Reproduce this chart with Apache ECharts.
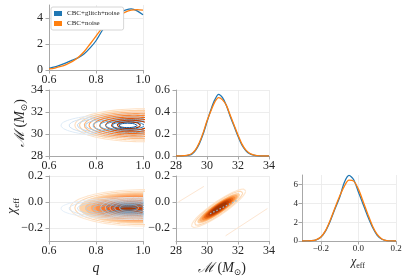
<!DOCTYPE html>
<html><head><meta charset="utf-8">
<script src="https://cdn.jsdelivr.net/npm/echarts@6/dist/echarts.min.js"></script>
<style>html,body{margin:0;padding:0;background:#fff}#c{width:407px;height:279px}</style>
</head><body><div id="c"></div>
<script>
// ---------- data ----------
const seriesNames = ['CBC+glitch+noise', 'CBC+noise'];
const qGrid = [0.6,0.625,0.65,0.675,0.7,0.725,0.75,0.775,0.8,0.825,0.85,0.875,0.9,0.925,0.95,0.975,1.0];
const qBlue   = [0.13,0.24,0.4,0.57,0.76,0.95,1.25,1.7,2.25,3.0,3.7,4.1,4.4,4.6,4.7,4.55,4.25];
const qOrange = [0.08,0.15,0.27,0.44,0.66,0.98,1.42,2.0,2.6,3.2,3.65,3.95,4.2,4.45,4.6,4.65,4.6];

const mGrid = [28,28.25,28.5,28.75,29,29.25,29.5,29.75,30,30.25,30.5,30.75,31,31.25,31.5,31.75,32,32.25,32.5,32.75,33,33.25,33.5,33.75,34];
const mBlue   = [0,0,0.002,0.005,0.015,0.05,0.11,0.2,0.31,0.42,0.51,0.56,0.53,0.46,0.36,0.27,0.18,0.1,0.05,0.02,0.008,0.002,0,0,0];
const mOrange = [0,0,0.003,0.007,0.02,0.055,0.12,0.21,0.32,0.41,0.49,0.53,0.51,0.46,0.37,0.28,0.19,0.11,0.055,0.025,0.01,0.003,0,0,0];

const cGrid = [-0.3,-0.275,-0.25,-0.225,-0.2,-0.175,-0.15,-0.125,-0.1,-0.075,-0.05,-0.025,0,0.025,0.05,0.075,0.1,0.125,0.15,0.175,0.2];
const cBlue   = [0,0.005,0.03,0.12,0.4,1.05,2.1,3.4,4.6,6.2,6.95,6.5,5.2,3.9,2.6,1.45,0.6,0.18,0.04,0.01,0];
const cOrange = [0,0.005,0.03,0.13,0.42,1.1,2.2,3.5,4.75,5.8,6.45,6.35,5.5,4.2,2.85,1.6,0.7,0.22,0.05,0.01,0];

const qTicks = [0.6,0.8,1.0], mTicks = [28,30,32,34], cTicks = [-0.2,0,0.2];
const qDensTicks = [0,2,4], mDensTicks = [0,0.2,0.4,0.6], cDensTicks = [0,2,4,6];

// contour levels (centres and semi-axes in data units), outer -> inner
const qmOrangeCq = [1.0,0.99,0.98,0.97,0.96,0.955,0.95,0.945,0.94];
const qmOrangeCm = 30.8;
const qmOrangeAq = [0.29,0.26,0.23,0.2,0.17,0.14,0.11,0.08,0.05];
const qmOrangeBm = [1.5,1.35,1.2,1.05,0.9,0.75,0.6,0.45,0.3];
const qmBlueCq = [0.97,0.965,0.96,0.955,0.95,0.945,0.94,0.937,0.935];
const qmBlueCm = 30.78;
const qmBlueAq = [0.32,0.28,0.24,0.2,0.165,0.13,0.1,0.07,0.04];
const qmBlueBm = [1.1,0.98,0.87,0.76,0.65,0.54,0.43,0.32,0.2];

const qcOrangeCq = [1.0,0.99,0.98,0.975,0.97,0.965,0.96,0.955,0.95,0.945,0.94];
const qcOrangeCc = -0.045;
const qcOrangeAq = [0.31,0.28,0.25,0.22,0.19,0.165,0.14,0.115,0.09,0.065,0.04];
const qcOrangeBc = [0.14,0.128,0.118,0.108,0.098,0.088,0.077,0.066,0.054,0.041,0.028];
const qcBlueCq = [0.97,0.965,0.96,0.955,0.95,0.945,0.94,0.937,0.935];
const qcBlueCc = -0.05;
const qcBlueAq = [0.32,0.28,0.24,0.2,0.165,0.13,0.1,0.07,0.04];
const qcBlueBc = [0.085,0.075,0.066,0.057,0.048,0.04,0.031,0.022,0.013];

const mcOrangeCenter = [30.75, -0.048];
const mcSlope = 0.0766;
const mcOrangeAm = [1.75,1.55,1.35,1.2,1.05,0.92,0.8,0.65,0.5];
const mcOrangeWc = [0.062,0.055,0.048,0.043,0.038,0.033,0.029,0.024,0.018];
const mcBlueRidge = [[30.2,-0.09],[31.95,0.013]];
const mcArtifact1 = [[28.15,0.0],[29.8,0.12]];
const mcArtifact2 = [[31.2,-0.26],[33.9,-0.05]];

const qmOrangeShades = ['#fee0c2','#fdd0a2','#fdb880','#fd9e58','#fb8535','#f06a16','#dd520a','#c03f04','#9a3203'];
const qmBlueShades = ['#deebf7','#d0e2f2','#c0d8ed','#aacde6','#8cbfdf','#6aaed6','#4a96c9','#2b7bba','#0d5aa2'];
const qcShades = ['#fee6ce','#fdd8b3','#fdd3a8','#fdbf8a','#fda86a','#fb904a','#f4782f','#e9621c','#da4f0e','#c74306','#a83803'];
const qcBlueShades = ['#deebf7','#d2e3f3','#c4daee','#b0cfe8','#9ac3e1','#80b3d9','#6aa6d2','#5c9ccd','#4e92c7'];
const mcShades = ['#fee6ce','#fdd8b3','#fdd0a2','#fdae6b','#f98c3a','#ec6a17','#d9520a','#bf4005','#a33503'];

// ---------- helpers ----------
const FONT = '"Liberation Serif", "DejaVu Serif", serif';
const TXT = '#262626';
function ellipse(cx, cy, a, b, slope) {
  const pts = [];
  for (let i = 0; i <= 90; i++) {
    const t = i / 90 * 2 * Math.PI;
    const dx = a * Math.cos(t);
    pts.push([cx + dx, cy + slope * dx + b * Math.sin(t)]);
  }
  return pts;
}
function lineS(gi, pts, color, w, extra) {
  return Object.assign({type:'line', xAxisIndex:gi, yAxisIndex:gi, data:pts, showSymbol:false, symbol:'none',
    silent:true, animation:false, clip:true, lineStyle:{color:color, width:w}}, extra || {});
}
function fillS(gi, pts, color, stroke) {
  return {type:'custom', xAxisIndex:gi, yAxisIndex:gi, silent:true, animation:false, clip:true,
    data:[[pts[0][0], pts[0][1]]],
    renderItem:function(params, api){
      const cs = params.coordSys;
      const p = pts.map(function(d){
        const xy = api.coord(d);
        return [Math.min(Math.max(xy[0], cs.x), cs.x + cs.width), Math.min(Math.max(xy[1], cs.y), cs.y + cs.height)];
      });
      return {type:'polygon', shape:{points:p}, style:{fill:color, stroke:stroke || color, lineWidth:0.7}};
    }};
}
const fmt1 = v => (v < 0 ? '\u2212' : '') + Math.abs(v).toFixed(1);
const fmtI = v => String(Math.round(v));
function axis(gi, min, max, ticks, fmt, fs, isY) {
  return {type:'value', gridIndex:gi, min:min, max:max,
    axisLine:{show:true, onZero:false, lineStyle:{color:'#a8a8a8', width:1}},
    axisTick:{show:true, inside:false, length:3.5, customValues:ticks, lineStyle:{color:'#a8a8a8', width:1}},
    axisLabel:{customValues:ticks, formatter:fmt, fontFamily:FONT, fontSize:fs, color:TXT, margin:isY ? 6 : 4},
    splitLine:{show:true, lineStyle:{color:'#e9e9e9', width:0.8}}};
}

// ---------- option ----------
const grids = [
  {left:49, top:5, width:94, height:65},
  {left:49, top:90, width:94, height:66},
  {left:49, top:176, width:94, height:65},
  {left:176, top:90, width:93, height:66},
  {left:176, top:176, width:93, height:65},
  {left:302, top:175, width:94, height:66}
];
const xAxes = [
  axis(0, 0.6, 1.0, qTicks, fmt1, 12),
  axis(1, 0.6, 1.0, qTicks, fmt1, 12),
  axis(2, 0.6, 1.0, qTicks, fmt1, 12),
  axis(3, 28, 34, mTicks, fmtI, 12),
  axis(4, 28, 34, mTicks, fmtI, 12),
  axis(5, -0.3, 0.2, cTicks, fmt1, 9)
];
const yAxes = [
  axis(0, 0, 5, qDensTicks, fmtI, 12, true),
  axis(1, 28, 34, mTicks, fmtI, 12, true),
  axis(2, -0.3, 0.2, cTicks, fmt1, 12, true),
  axis(3, 0, 0.6, mDensTicks, fmt1, 12, true),
  axis(4, -0.3, 0.2, cTicks, fmt1, 12, true),
  axis(5, 0, 7, cDensTicks, fmtI, 9, true)
];
yAxes[5].axisLabel.margin = 4;
xAxes[5].axisLabel.margin = 3;

const series = [];
const zip = (xs, ys) => xs.map((x, i) => [x, ys[i]]);
// marginals
[[0, qGrid, qBlue, qOrange], [3, mGrid, mBlue, mOrange], [5, cGrid, cBlue, cOrange]].forEach(function(m){
  series.push(lineS(m[0], zip(m[1], m[2]), '#1f77b4', 1.3, {name:seriesNames[0], smooth:0.3, itemStyle:{color:'#1f77b4'}}));
  series.push(lineS(m[0], zip(m[1], m[3]), '#ff7f0e', 1.3, {name:seriesNames[1], smooth:0.3, itemStyle:{color:'#ff7f0e'}}));
});
// q vs chirp mass: interleaved line contours
qmOrangeAq.forEach(function(a, i){
  series.push(lineS(1, ellipse(qmOrangeCq[i], qmOrangeCm, a, qmOrangeBm[i], 0), qmOrangeShades[i], 1.1));
  series.push(lineS(1, ellipse(qmBlueCq[i], qmBlueCm, qmBlueAq[i], qmBlueBm[i], 0), qmBlueShades[i], 1.0));
});
// q vs chi_eff: orange filled + lines, blue lines on top
qcOrangeAq.forEach(function(a, i){
  const pts = ellipse(qcOrangeCq[i], qcOrangeCc, a, qcOrangeBc[i], 0);
  if (i >= 2) series.push(fillS(2, pts, qcShades[i], i >= 6 ? '#fbe3cf' : null));
  else series.push(lineS(2, pts, qcShades[i], 1.1));
});
qcBlueAq.forEach(function(a, i){
  series.push(lineS(2, ellipse(qcBlueCq[i], qcBlueCc, a, qcBlueBc[i], 0), qcBlueShades[i], 0.8));
});
// chirp mass vs chi_eff
series.push(lineS(4, mcArtifact1, '#fde6d2', 1));
series.push(lineS(4, mcArtifact2, '#fde6d2', 1));
mcOrangeAm.forEach(function(a, i){
  const pts = ellipse(mcOrangeCenter[0], mcOrangeCenter[1], a, mcOrangeWc[i], mcSlope);
  if (i >= 2) series.push(fillS(4, pts, mcShades[i]));
  else series.push(lineS(4, pts, mcShades[i], 1.1));
});
series.push(lineS(4, mcBlueRidge, '#8fbde0', 1.2, {lineStyle:{color:'#8fbde0', width:1.2, type:[1.5,2]}}));

function label(x, y, txt, fs, sfs, rot) {
  return {type:'text', x:x, y:y, rotation:rot || 0, silent:true,
    style:{text:txt, align:'center', verticalAlign:'middle', fontFamily:FONT, fontSize:fs, fill:TXT,
      rich:{
        m:{fontFamily:FONT, fontStyle:'italic', fontSize:fs, fill:TXT, lineHeight:fs + 4, verticalAlign:'middle'},
        n:{fontFamily:FONT, fontSize:fs, fill:TXT, lineHeight:fs + 4, verticalAlign:'middle'},
        s:{fontFamily:FONT, fontSize:sfs, fill:TXT, lineHeight:sfs, verticalAlign:'bottom'}
      }}};
}
const mLabelText = '{m|\u2133} {n|(}{m|M}{s|\u2299}{n|)}';
const cLabelText = '{m|\u03c7}{s|eff}';

const option = {
  backgroundColor:'#ffffff',
  animation:false,
  grid:grids,
  xAxis:xAxes,
  yAxis:yAxes,
  legend:{data:seriesNames, orient:'vertical', left:51, top:7, itemWidth:8, itemHeight:5, itemGap:3, icon:'rect',
    textStyle:{fontFamily:FONT, fontSize:7, color:TXT}, backgroundColor:'#ffffff', borderColor:'#cccccc',
    borderWidth:0.8, borderRadius:2, padding:[3,4,3,3], selectedMode:false},
  series:series,
  graphic:[
    label(96, 268, '{m|q}', 14, 9),
    label(222, 268, mLabelText, 14, 9),
    label(358, 262, cLabelText, 12, 8),
    label(20, 123, mLabelText, 14, 9, Math.PI/2),
    label(12, 206, cLabelText, 14, 9, Math.PI/2)
  ]
};
const chart = echarts.init(document.getElementById('c'), null, {renderer:'canvas'});
chart.setOption(option);
</script>
</body></html>
